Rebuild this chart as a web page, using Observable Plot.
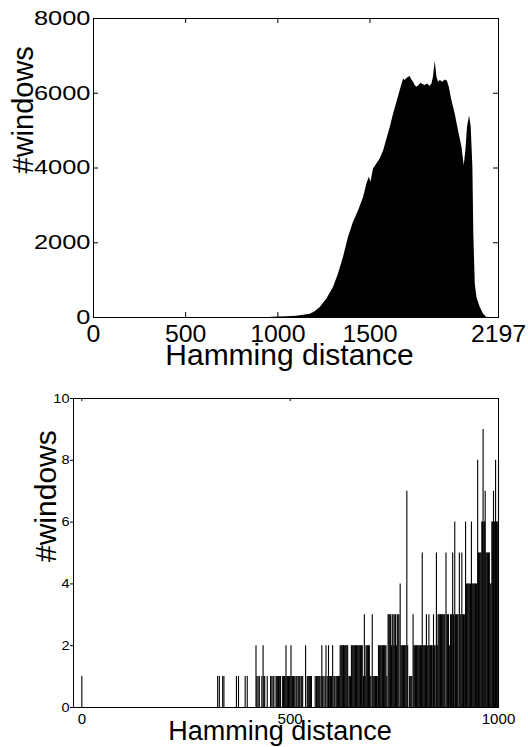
<!DOCTYPE html>
<html>
<head>
<meta charset="utf-8">
<script src="https://cdn.jsdelivr.net/npm/d3@7"></script>
<script src="https://cdn.jsdelivr.net/npm/@observablehq/plot@0.6"></script>
<style>
  html, body { margin: 0; padding: 0; background: #fff; }
  #chart { width: 528px; }
  #chart svg { display: block; }
</style>
</head>
<body>
<div id="chart"></div>
<script>
// ---------- data: full-range histogram (top panel) ----------
const topDist = [900, 950, 1000, 1050, 1100, 1121, 1150, 1176, 1200, 1230,
  1266, 1302, 1329, 1356, 1383, 1410, 1438, 1465, 1483, 1496,
  1505, 1519, 1537, 1555, 1574, 1592, 1610, 1628, 1646, 1664,
  1682, 1691, 1703, 1718, 1727, 1736, 1745, 1754, 1767, 1776,
  1787, 1799, 1812, 1826, 1836, 1844, 1854, 1863, 1872, 1881,
  1895, 1908, 1920, 1930, 1944, 1962, 1980, 1999, 2011, 2020,
  2029, 2040, 2049, 2058, 2063, 2071, 2080, 2098, 2116, 2134];
const topCount = [0, 3, 12, 20, 35, 45, 65, 90, 150, 268,
  493, 804, 1162, 1607, 2143, 2544, 2858, 3214, 3573, 3750,
  3616, 3973, 4107, 4240, 4464, 4777, 5089, 5446, 5758, 6071,
  6384, 6340, 6411, 6446, 6357, 6294, 6205, 6160, 6205, 6268,
  6232, 6205, 6250, 6178, 6250, 6428, 6857, 6428, 6294, 6339,
  6294, 6357, 6321, 6160, 5803, 5446, 5000, 4553, 4062, 4464,
  5089, 5401, 5089, 4017, 2233, 893, 535, 268, 90, 0];
const topXTicks = [0, 500, 1000, 1500, 2197];
const topYTicks = [0, 2000, 4000, 6000, 8000];

// ---------- data: low-distance detail (bottom panel) ----------
const lowDist = [0,
  326, 330, 338, 341, 371, 376, 392, 397,
  418, 420, 423, 426, 432, 435, 437, 439,
  445, 453, 456, 459, 461,
  466, 468, 470, 472, 474, 477,
  482, 484, 486, 488, 490, 492, 494, 496, 498, 500, 502, 504, 506, 508, 511, 514, 516, 519, 521, 523, 526, 528, 530,
  537,
  541, 543, 545, 547, 549, 551,
  560, 563, 565, 567, 569, 571, 574, 576, 578, 581, 584, 586, 589, 592, 594, 597, 599, 602, 605, 607, 610, 612, 614, 616, 618,
  620, 622, 624, 626, 628, 630, 632, 634, 636, 638,
  641, 643, 645,
  647, 649, 651, 653, 655, 657, 659, 661, 663, 665, 667, 669, 671, 673,
  676, 678, 680, 682, 684, 686, 688, 690, 692, 694, 697, 699, 701, 703, 705, 707, 709,
  712, 714, 716, 718, 720, 722, 724, 726, 728, 730, 732,
  735, 737, 739, 741, 743, 745, 747, 749, 751, 753, 755, 757, 759, 761, 764, 766, 768, 770, 772, 774, 776, 778, 780, 782,
  786, 788, 790, 792, 795, 797, 799, 801, 803, 805, 807, 809, 811, 813, 815, 817, 819, 821, 823, 825, 827, 829, 831, 833, 835, 837, 839, 841,
  844, 846, 848, 851, 853, 855, 857, 859, 861, 863, 865, 867, 869, 871, 874, 876, 878, 880, 882, 885, 887, 890, 892, 895, 897, 899, 901, 903,
  906, 908, 910, 912, 914, 916, 918, 921, 923, 925, 927, 929, 931, 933, 935, 937, 939, 941, 943, 945, 947,
  950, 952, 954, 956, 958, 960, 962, 963, 965, 967, 968, 970, 972, 974, 976, 978, 980, 982, 984, 986, 988, 990, 992, 993, 995, 997, 999, 1000];
const lowCount = [1,
  1, 1, 1, 1, 1, 1, 1, 1,
  2, 1, 1, 1, 1, 2, 1, 1,
  1, 1, 1, 1, 1,
  1, 1, 1, 1, 1, 1,
  1, 1, 1, 1, 2, 1, 1, 1, 1, 1, 2, 1, 1, 1, 1, 1, 1, 1, 1, 1, 1, 1, 1,
  2,
  1, 1, 1, 1, 1, 1,
  1, 1, 1, 1, 1, 1, 1, 2, 1, 1, 1, 2, 1, 2, 1, 1, 1, 2, 1, 1, 1, 1, 1, 1, 1,
  2, 2, 2, 2, 2, 2, 2, 2, 2, 2,
  1, 1, 1,
  2, 2, 2, 2, 2, 2, 2, 2, 2, 2, 2, 2, 2, 2,
  1, 3, 1, 2, 2, 2, 2, 2, 1, 1, 3, 1, 1, 1, 1, 1, 1,
  2, 2, 2, 2, 2, 2, 2, 2, 2, 2, 1,
  3, 3, 3, 3, 2, 3, 3, 2, 3, 3, 2, 3, 3, 3, 4, 2, 2, 2, 2, 2, 2, 2, 7, 2,
  1, 1, 1, 1, 3, 2, 2, 2, 2, 2, 2, 2, 2, 2, 2, 5, 2, 2, 2, 2, 3, 2, 2, 3, 2, 2, 2, 2,
  3, 2, 2, 5, 2, 3, 3, 3, 3, 3, 3, 3, 3, 3, 5, 3, 3, 3, 2, 3, 3, 5, 3, 6, 3, 3, 3, 3,
  5, 3, 3, 5, 3, 3, 3, 6, 4, 4, 4, 4, 4, 4, 6, 4, 4, 4, 4, 4, 4,
  8, 5, 5, 5, 5, 6, 6, 9, 6, 6, 7, 5, 5, 5, 5, 5, 4, 4, 6, 6, 7, 6, 6, 8, 6, 6, 6, 8];
const lowXTicks = [0, 500, 1000];
const lowYTicks = [0, 2, 4, 6, 8, 10];

const xLabel = "Hamming distance";
const yLabel = "#windows";

const FONT = "'Liberation Sans', Arial, Helvetica, sans-serif";

// horizontally widen text glyphs (the reference's lettering is stretched)
function stretch(svg, label, s) {
  svg.querySelectorAll(`g[aria-label="${label}"] text, text[aria-label="${label}"]`).forEach(t => {
    const tr = t.getAttribute("transform") || "";
    const xa = t.getAttribute("x");
    let pre = "";
    if (xa !== null && !isNaN(+xa)) { pre = ` translate(${+xa},0)`; t.removeAttribute("x"); }
    const ya = t.getAttribute("y");
    if (ya !== null && !isNaN(+ya)) { pre += ` translate(0,${+ya})`; t.removeAttribute("y"); }
    t.setAttribute("transform", `${tr}${pre} scale(${s},1)`);
  });
}

const fmt = d => String(d);
const chart = document.getElementById("chart");

// ---------- top panel ----------
const topData = topDist.map((d, i) => ({d, c: topCount[i]}));
const tH = 375, tMT = 18, tMB = 58;
const tInner = tH - tMT - tMB;
const topPlot = Plot.plot({
  width: 528, height: tH,
  marginLeft: 93, marginRight: 30, marginTop: tMT, marginBottom: tMB,
  style: {fontFamily: FONT, color: "#000", background: "#fff", overflow: "visible"},
  x: {domain: [0, 2197], label: null},
  y: {domain: [0, 8000], label: null},
  marks: [
    Plot.areaY(topData, {x: "d", y: "c", fill: "#000", curve: "linear"}),
    Plot.ruleX(topXTicks.slice(1, -1), {stroke: "#000", insetTop: tInner - 5}),
    Plot.ruleX(topXTicks.slice(1, -1), {stroke: "#000", insetBottom: tInner - 5}),
    Plot.ruleY(topYTicks.slice(1, -1), {stroke: "#000", insetRight: 405 - 5}),
    Plot.ruleY(topYTicks.slice(1, -1), {stroke: "#000", insetLeft: 405 - 5}),
    Plot.frame({stroke: "#000", strokeWidth: 1}),
    Plot.axisX(topXTicks, {tickSize: 0, tickPadding: 8, fontSize: 23, tickFormat: fmt, label: null}),
    Plot.axisY(topYTicks, {tickSize: 0, tickPadding: 3, fontSize: 20, tickFormat: fmt, label: null}),
    Plot.text([xLabel], {text: d => d, frameAnchor: "bottom", lineAnchor: "top", dy: 26, dx: -6.5, fontSize: 30, fill: "#000", ariaLabel: "xlabel"}),
    Plot.text([yLabel], {text: d => d, frameAnchor: "left", rotate: -90, dx: -70, dy: 5.5, fontSize: 29, fill: "#000", ariaLabel: "ylabel"})
  ]
});
chart.appendChild(topPlot);
stretch(topPlot, "y-axis tick label", 1.27);
stretch(topPlot, "x-axis tick label", 1.08);
stretch(topPlot, "xlabel", 1.04);
stretch(topPlot, "ylabel", 1.12);

// ---------- bottom panel ----------
const lowData = lowDist.map((d, i) => ({d, c: lowCount[i]}));
const bH = 372, bMT = 23, bMB = 40;
const bInner = bH - bMT - bMB;
const lowPlot = Plot.plot({
  width: 528, height: bH,
  marginLeft: 73, marginRight: 30, marginTop: bMT, marginBottom: bMB,
  style: {fontFamily: FONT, color: "#000", background: "#fff", overflow: "visible"},
  x: {domain: [-20, 1000], label: null},
  y: {domain: [0, 10], label: null},
  marks: [
    Plot.ruleX(lowData, {x: "d", y1: 0, y2: "c", stroke: "#000", strokeWidth: 1.1}),
    Plot.ruleX([0, 500], {stroke: "#000", insetBottom: bInner - 3}),
    Plot.frame({stroke: "#000", strokeWidth: 1}),
    Plot.axisX(lowXTicks, {tickSize: 0, tickPadding: 6.5, fontSize: 14, tickFormat: fmt, label: null}),
    Plot.axisY(lowYTicks, {tickSize: 3, tickPadding: 1, fontSize: 13, tickFormat: fmt, label: null}),
    Plot.text([xLabel], {text: d => d, frameAnchor: "bottom", lineAnchor: "top", dy: 13.5, dx: -6, fontSize: 27, fill: "#000", ariaLabel: "xlabel"}),
    Plot.text([yLabel], {text: d => d, frameAnchor: "left", rotate: -90, dx: -27, dy: 9, fontSize: 30, fill: "#000", ariaLabel: "ylabel"})
  ]
});
chart.appendChild(lowPlot);
stretch(lowPlot, "y-axis tick label", 1.12);
stretch(lowPlot, "x-axis tick label", 1.08);
stretch(lowPlot, "xlabel", 1.15);
stretch(lowPlot, "ylabel", 1.09);
</script>
</body>
</html>
